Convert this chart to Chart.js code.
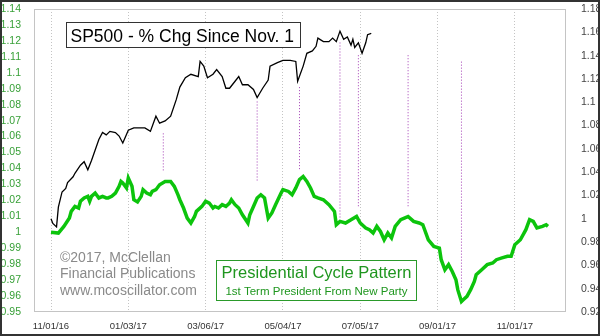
<!DOCTYPE html>
<html>
<head>
<meta charset="utf-8">
<script src="https://cdn.jsdelivr.net/npm/chart.js@4.4.0/dist/chart.umd.min.js"></script>
<style>
html, body { margin: 0; padding: 0; background: #fff; }
canvas { display: block; }
</style>
</head>
<body>
<canvas id="cycleChart" width="600" height="336"></canvas>
<script>
// x axis is in trading days since 11/01/16
var dateLabels = ['11/01/16', '01/03/17', '03/06/17', '05/04/17', '07/05/17', '09/01/17', '11/01/17'];
var dateTickDays = [0, 42, 84, 126, 168, 210, 252];

var leftTicks = [0.95, 0.96, 0.97, 0.98, 0.99, 1, 1.01, 1.02, 1.03, 1.04, 1.05, 1.06, 1.07, 1.08, 1.09, 1.1, 1.11, 1.12, 1.13, 1.14];
var rightTicks = [0.92, 0.94, 0.96, 0.98, 1, 1.02, 1.04, 1.06, 1.08, 1.1, 1.12, 1.14, 1.16, 1.18];

// Presidential cycle pattern (left axis)
var cycleDays = [0, 4, 7, 10, 11, 13, 15, 16, 18, 20, 21, 22, 24, 26, 28, 30, 31, 33, 35, 37,
  38, 39, 41, 42, 44, 45, 47, 49, 50, 52, 54, 55, 57, 59, 62, 65, 67, 69, 70, 72,
  74, 76, 78, 79, 82, 84, 86, 88, 89, 91, 93, 95, 97, 98, 100, 102, 104, 107, 108, 110,
  112, 114, 116, 118, 120, 122, 125, 126, 129, 131, 133, 135, 137, 139, 141, 143, 145, 148, 151, 154,
  155, 157, 160, 163, 166, 168, 171, 173, 175, 177, 179, 181, 183, 185, 187, 190, 192, 194, 197, 200,
  202, 205, 208, 211, 212, 214, 216, 218, 220, 221, 223, 224, 226, 228, 230, 231, 234, 237, 240, 242,
  245, 248, 250, 252, 255, 258, 260, 262, 264, 267, 269, 270];
var cycleValues = [1.000, 0.9995, 1.0037, 1.0089, 1.0131, 1.0162, 1.0152, 1.0194, 1.0215, 1.0225, 1.0194, 1.0225, 1.0246, 1.0215, 1.0225, 1.0215, 1.0215, 1.0225, 1.0246, 1.0288,
  1.0319, 1.0309, 1.0278, 1.0340, 1.0288, 1.0204, 1.0190, 1.0225, 1.0267, 1.0246, 1.0235, 1.0256, 1.0267, 1.0298, 1.0319, 1.0319, 1.0288, 1.0235, 1.0204, 1.0152,
  1.0089, 1.0058, 1.0099, 1.0131, 1.0162, 1.0194, 1.0183, 1.0152, 1.0162, 1.0152, 1.0173, 1.0162, 1.0183, 1.0204, 1.0173, 1.0152, 1.0110, 1.0058, 1.0110, 1.0162,
  1.0215, 1.0235, 1.0215, 1.0089, 1.0121, 1.0173, 1.0246, 1.0267, 1.0256, 1.0235, 1.0278, 1.0330, 1.0350, 1.0319, 1.0278, 1.0225, 1.0215, 1.0204, 1.0173, 1.0131,
  1.0047, 1.0068, 1.0058, 1.0079, 1.0099, 1.0058, 1.0027, 1.0016, 0.9995, 1.0037, 1.0005, 0.9953, 0.9995, 0.9964, 1.0037, 1.0079, 1.0089, 1.0099, 1.0068, 1.0058,
  1.0047, 0.9953, 0.9911, 0.9901, 0.9828, 0.9765, 0.9797, 0.9754, 0.9702, 0.9640, 0.9566, 0.9577, 0.9598, 0.9640, 0.9692, 0.9734, 0.9765, 0.9797, 0.9807, 0.9828,
  0.9839, 0.9849, 0.9849, 0.9922, 0.9953, 1.0016, 1.0079, 1.0068, 1.0027, 1.0037, 1.0047, 1.0037];

// SP500 % change since Nov. 1 (right axis)
var spDays = [0, 1, 3, 4, 6, 8, 9, 12, 13, 16, 18, 20, 22, 24, 26, 28, 30, 32, 35, 37,
  39, 42, 45, 47, 51, 54, 57, 59, 62, 65, 68, 70, 73, 76, 80, 81, 83, 85, 88, 90,
  93, 95, 97, 100, 102, 104, 107, 110, 112, 115, 118, 119, 123, 126, 130, 133, 134, 137, 139, 142,
  144, 145, 148, 151, 153, 155, 157, 159, 161, 163, 164, 165, 167, 169, 171, 172, 174];
var spValues = [1.000, 0.996, 0.993, 1.010, 1.023, 1.026, 1.031, 1.036, 1.039, 1.046, 1.049, 1.042, 1.050, 1.059, 1.068, 1.074, 1.072, 1.075, 1.074, 1.071,
  1.065, 1.076, 1.078, 1.078, 1.078, 1.075, 1.088, 1.082, 1.084, 1.088, 1.102, 1.113, 1.121, 1.124, 1.122, 1.135, 1.131, 1.121, 1.124, 1.128,
  1.122, 1.112, 1.112, 1.118, 1.122, 1.115, 1.115, 1.111, 1.104, 1.112, 1.119, 1.131, 1.134, 1.136, 1.136, 1.135, 1.118, 1.131, 1.142, 1.144,
  1.148, 1.155, 1.152, 1.152, 1.155, 1.152, 1.161, 1.154, 1.156, 1.149, 1.154, 1.147, 1.151, 1.142, 1.151, 1.158, 1.159];

// dotted turning-point markers (left axis values)
var markDays = [61, 112, 135, 157, 167, 194, 223];
var markTops = [1.062, 1.082, 1.091, 1.119, 1.111, 1.111, 1.107];
var markBottoms = [1.038, 1.032, 1.039, 1.009, 1.016, 1.016, 0.965];

var FONT = "'Liberation Sans', Arial, sans-serif";

function toPoints(xs, ys) {
    return xs.map(function (x, i) { return { x: x, y: ys[i] }; });
}

var datasets = [{
    label: 'SP500',
    data: toPoints(spDays, spValues),
    yAxisID: 'y2',
    borderColor: '#000',
    borderWidth: 1.3,
    pointRadius: 0,
    tension: 0
}, {
    label: 'Presidential Cycle Pattern',
    data: toPoints(cycleDays, cycleValues),
    yAxisID: 'y',
    borderColor: '#0cc40c',
    borderWidth: 3.5,
    pointRadius: 0,
    tension: 0
}];

markDays.forEach(function (d, i) {
    datasets.push({
        data: [{ x: d, y: markTops[i] }, { x: d, y: markBottoms[i] }],
        yAxisID: 'y',
        borderColor: '#a23cb4',
        borderWidth: 1,
        borderDash: [1, 2],
        pointRadius: 0
    });
});

// plot frame + outer border + text boxes
var decor = {
    id: 'decor',
    beforeDatasetsDraw: function (chart) {
        var a = chart.chartArea, ctx = chart.ctx;
        ctx.save();
        ctx.strokeStyle = '#c4c4c4';
        ctx.lineWidth = 1;
        ctx.strokeRect(a.left + 0.5, a.top + 0.5, a.right - a.left - 1, a.bottom - a.top - 1);
        ctx.restore();
    },
    afterDraw: function (chart) {
        var ctx = chart.ctx;
        ctx.save();
        // title box
        ctx.fillStyle = '#fff';
        ctx.fillRect(66.5, 22.5, 234, 25);
        ctx.strokeStyle = '#333';
        ctx.lineWidth = 1;
        ctx.strokeRect(66.5, 22.5, 234, 25);
        ctx.fillStyle = '#000';
        ctx.font = '17.5px ' + FONT;
        ctx.textBaseline = 'alphabetic';
        ctx.textAlign = 'left';
        ctx.fillText('SP500 - % Chg Since Nov. 1', 70.5, 42);

        // copyright
        ctx.fillStyle = '#8a8a8a';
        ctx.font = '14px ' + FONT;
        ctx.fillText('\u00A92017, McClellan', 60, 261.5);
        ctx.fillText('Financial Publications', 60, 278);
        ctx.fillText('www.mcoscillator.com', 60, 295);

        // legend box
        ctx.fillStyle = '#fff';
        ctx.fillRect(216.5, 260.5, 200, 40);
        ctx.strokeStyle = '#2a9a2a';
        ctx.strokeRect(216.5, 260.5, 200, 40);
        ctx.fillStyle = '#1f961f';
        ctx.textAlign = 'center';
        ctx.font = '16.5px ' + FONT;
        ctx.fillText('Presidential Cycle Pattern', 316.5, 277.5);
        ctx.font = '11.5px ' + FONT;
        ctx.fillText('1st Term President From New Party', 316.5, 295);

        // outer border
        ctx.strokeStyle = '#333';
        ctx.lineWidth = 2;
        ctx.strokeRect(1, 1, 598, 334);
        ctx.restore();
    }
};

function fixWidth(scale) {
    scale.width = 34;
    scale.paddingTop = 0;
    scale.paddingBottom = 0;
}

var ctx = document.getElementById('cycleChart').getContext('2d');
var chart = new Chart(ctx, {
    type: 'line',
    data: { datasets: datasets },
    plugins: [decor],
    options: {
        responsive: false,
        animation: false,
        devicePixelRatio: 1,
        layout: { padding: { top: 9, left: 0, right: 0, bottom: 0 } },
        plugins: {
            legend: { display: false },
            tooltip: { enabled: false }
        },
        scales: {
            x: {
                type: 'linear',
                bounds: 'data',
                min: -9.24,
                max: 279.8,
                afterBuildTicks: function (scale) {
                    scale.ticks = dateTickDays.map(function (v) { return { value: v }; });
                },
                afterFit: function (scale) {
                    scale.height = 24;
                    scale.paddingLeft = 0;
                    scale.paddingRight = 0;
                },
                ticks: {
                    autoSkip: false,
                    maxRotation: 0,
                    padding: 9,
                    color: '#333',
                    font: { family: FONT, size: 9.5 },
                    callback: function (v) {
                        var i = dateTickDays.indexOf(v);
                        return i >= 0 ? dateLabels[i] : '';
                    }
                },
                grid: { display: true, color: '#c4c4c4', lineWidth: 1, drawTicks: false },
                border: { display: false, dash: [1, 2] }
            },
            y: {
                position: 'left',
                bounds: 'data',
                min: 0.95,
                max: 1.14,
                afterBuildTicks: function (scale) {
                    scale.ticks = leftTicks.map(function (v) { return { value: v }; });
                },
                afterFit: fixWidth,
                ticks: {
                    autoSkip: false,
                    padding: 5,
                    color: '#38a038',
                    font: { family: FONT, size: 10.5 },
                    callback: function (v) { return String(v); }
                },
                grid: { display: false },
                border: { display: false }
            },
            y2: {
                position: 'right',
                bounds: 'data',
                min: 0.92,
                max: 1.18,
                afterBuildTicks: function (scale) {
                    scale.ticks = rightTicks.map(function (v) { return { value: v }; });
                },
                afterFit: fixWidth,
                ticks: {
                    autoSkip: false,
                    padding: 7,
                    color: '#444',
                    font: { family: FONT, size: 10.5 },
                    callback: function (v) { return String(v); }
                },
                grid: { display: false },
                border: { display: false }
            }
        }
    }
});
</script>
</body>
</html>
